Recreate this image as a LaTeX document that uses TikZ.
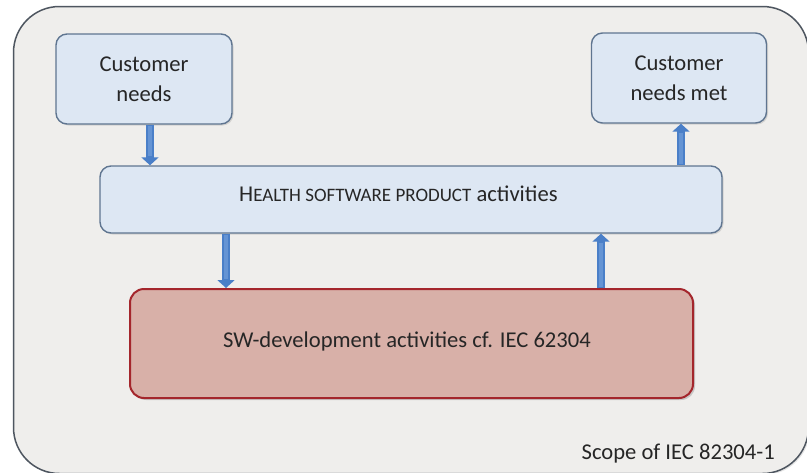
\documentclass[tikz,border=0pt]{standalone}
\usepackage{fontspec}
\setmainfont{Carlito}
\usetikzlibrary{arrows.meta,shadows}
% small capitals built from scaled capitals (the font has no smcp feature)
\newcommand{\fakesc}[1]{{\fontsize{19}{19}\selectfont #1}}
\definecolor{pagebg}{HTML}{FFFFFF}
\definecolor{scopefill}{HTML}{EFEEEC}
\definecolor{scopeline}{HTML}{4E5660}
\definecolor{bluefill}{HTML}{DDE7F3}
\definecolor{blueline}{HTML}{5F7590}
\definecolor{redfill}{HTML}{D8B0A8}
\definecolor{redline}{HTML}{A4262C}
\definecolor{flowblue}{HTML}{4A7FC8}
\definecolor{flowlight}{HTML}{78A3DD}
\definecolor{textcol}{HTML}{262626}
\begin{document}
\begin{tikzpicture}[x=1pt,y=-1pt,
  text=textcol, font=\fontsize{22.6}{29.5}\selectfont,
  bluebox/.style={draw=blueline, line width=1.4pt, fill=bluefill, rounded corners=11pt,
    drop shadow={shadow xshift=1.5pt, shadow yshift=-1.5pt, opacity=0.25}},
  redbox/.style={draw=redline, line width=2pt, fill=redfill, rounded corners=14pt,
    drop shadow={shadow xshift=2pt, shadow yshift=-2pt, opacity=0.35}},
  flow/.style={draw=flowblue, line width=8pt, -{Triangle[length=8pt,width=17pt]}},
  flowshine/.style={draw=flowlight, line width=4pt, opacity=0.6, shorten >=9pt, shorten <=1pt}]
\useasboundingbox (0,0) rectangle (807,472);
\fill[pagebg] (0,0) rectangle (807,472);
% scope frame
\node[draw=scopeline, line width=1.5pt, fill=scopefill, rounded corners=46pt,
  minimum width=795pt, minimum height=467pt, inner sep=0pt,
  drop shadow={shadow xshift=1.5pt, shadow yshift=-1.5pt, opacity=0.2}] (scope) at (411,240) {};
\node[anchor=base east, inner sep=0pt] (scopelabel) at (775,459) {Scope of IEC 82304-1};
% boxes
\node[bluebox, minimum width=176pt, minimum height=90pt, align=center] (needs) at (144,79)
  {Customer\\needs};
\node[bluebox, minimum width=175pt, minimum height=90pt, align=center] (met) at (679,78)
  {Customer\\needs met};
\node[bluebox, minimum width=622pt, minimum height=67pt] (health) at (411,199.5) {};
\node[anchor=base west, inner sep=0pt] (healthlabel) at (239,201)
  {H\fakesc{EALTH SOFTWARE PRODUCT} activities};
\node[redbox, minimum width=563pt, minimum height=109pt] (sw) at (411.5,343.5) {};
\node[anchor=base, inner sep=0pt] (swlabel) at (407,347.5)
  {SW-development activities cf. IEC 62304};
% flows between the boxes, each with a lighter streak down the shaft
\foreach \x/\from/\to in {150/needs.south/health.north, 681/health.north/met.south,
                          226/health.south/sw.north, 601/sw.north/health.south} {
  \draw[flow] (\from -| \x,0) -- (\to -| \x,0);
  \draw[flowshine] (\from -| \x,0) -- (\to -| \x,0);
}
\end{tikzpicture}
\end{document}
